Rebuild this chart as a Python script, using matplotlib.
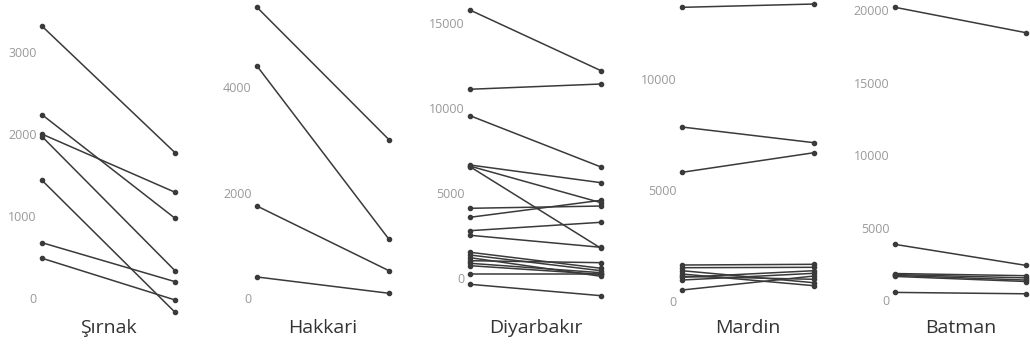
import matplotlib
matplotlib.use("Agg")
import matplotlib.pyplot as plt

plt.rcParams['font.family'] = ['Open Sans', 'DejaVu Sans']

provinces = ["Şırnak", "Hakkari", "Diyarbakır", "Mardin", "Batman"]

# values at the left (first) and right (second) end of each line
sirnak_start = [3320, 2237, 2000, 1970, 1435, 672, 482]
sirnak_end = [1773, 971, 1289, 330, -178, 196, -28]

hakkari_start = [5521, 4405, 1743, 394]
hakkari_end = [3004, 1110, 513, 84]

diyarbakir_start = [15780, 11120, 9565, 6665, 6600, 6565, 4118, 3588, 2800, 2530,
                    1530, 1370, 1212, 1035, 882, 741, 253, -353]
diyarbakir_end = [12212, 11429, 6547, 5624, 4447, 1765, 4250, 4588, 3294, 1823,
                  588, 447, 118, 918, 329, 235, 253, -1023]

mardin_start = [13257, 7849, 5802, 1613, 1491, 1356, 1207, 1100, 1057, 935, 483]
mardin_end = [13407, 7140, 6688, 1645, 1509, 813, 678, 967, 1356, 1238, 1116]

batman_start = [20179, 3857, 1850, 1780, 1720, 1650, 551]
batman_end = [18430, 2410, 1700, 1550, 1400, 1300, 455]

starts = [sirnak_start, hakkari_start, diyarbakir_start, mardin_start, batman_start]
ends = [sirnak_end, hakkari_end, diyarbakir_end, mardin_end, batman_end]

yticks = [
    [0, 1000, 2000, 3000],
    [0, 2000, 4000],
    [0, 5000, 10000, 15000],
    [0, 5000, 10000],
    [0, 5000, 10000, 15000, 20000],
]

# layout: pixel x of the left / right points, y-limits per panel
W, H = 1030, 346
x_left = [42, 257, 470, 682, 895]
x_right = [175, 389, 601, 814, 1026]
ylims = [(-224, 3615), (-348, 5622), (-2218, 16253), (-691, 13498), (-1074, 20544)]
top_px, bot_px = 2, 316

fig = plt.figure(figsize=(W / 100, H / 100), dpi=100)

for i in range(5):
    ax = fig.add_axes([x_left[i] / W, 1 - bot_px / H,
                       (x_right[i] - x_left[i]) / W, (bot_px - top_px) / H])
    for a, b in zip(starts[i], ends[i]):
        ax.plot([0, 1], [a, b], color="#3a3a3a", lw=1.1, marker="o",
                markersize=3.0, clip_on=False, solid_capstyle="round")
    ax.set_xlim(0, 1)
    ax.set_ylim(*ylims[i])
    ax.set_yticks(yticks[i])
    ax.set_yticklabels([str(t) for t in yticks[i]])
    ax.set_xticks([])
    ax.tick_params(axis="y", length=0, pad=4, labelsize=9, labelcolor="#999999")
    for s in ax.spines.values():
        s.set_visible(False)
    ax.patch.set_alpha(0)
    fig.text((x_left[i] + x_right[i]) / 2 / W, 1 - 333 / H, provinces[i],
             ha="center", va="baseline", fontsize=14, color="#333333")

fig.savefig("out.png", dpi=100)
